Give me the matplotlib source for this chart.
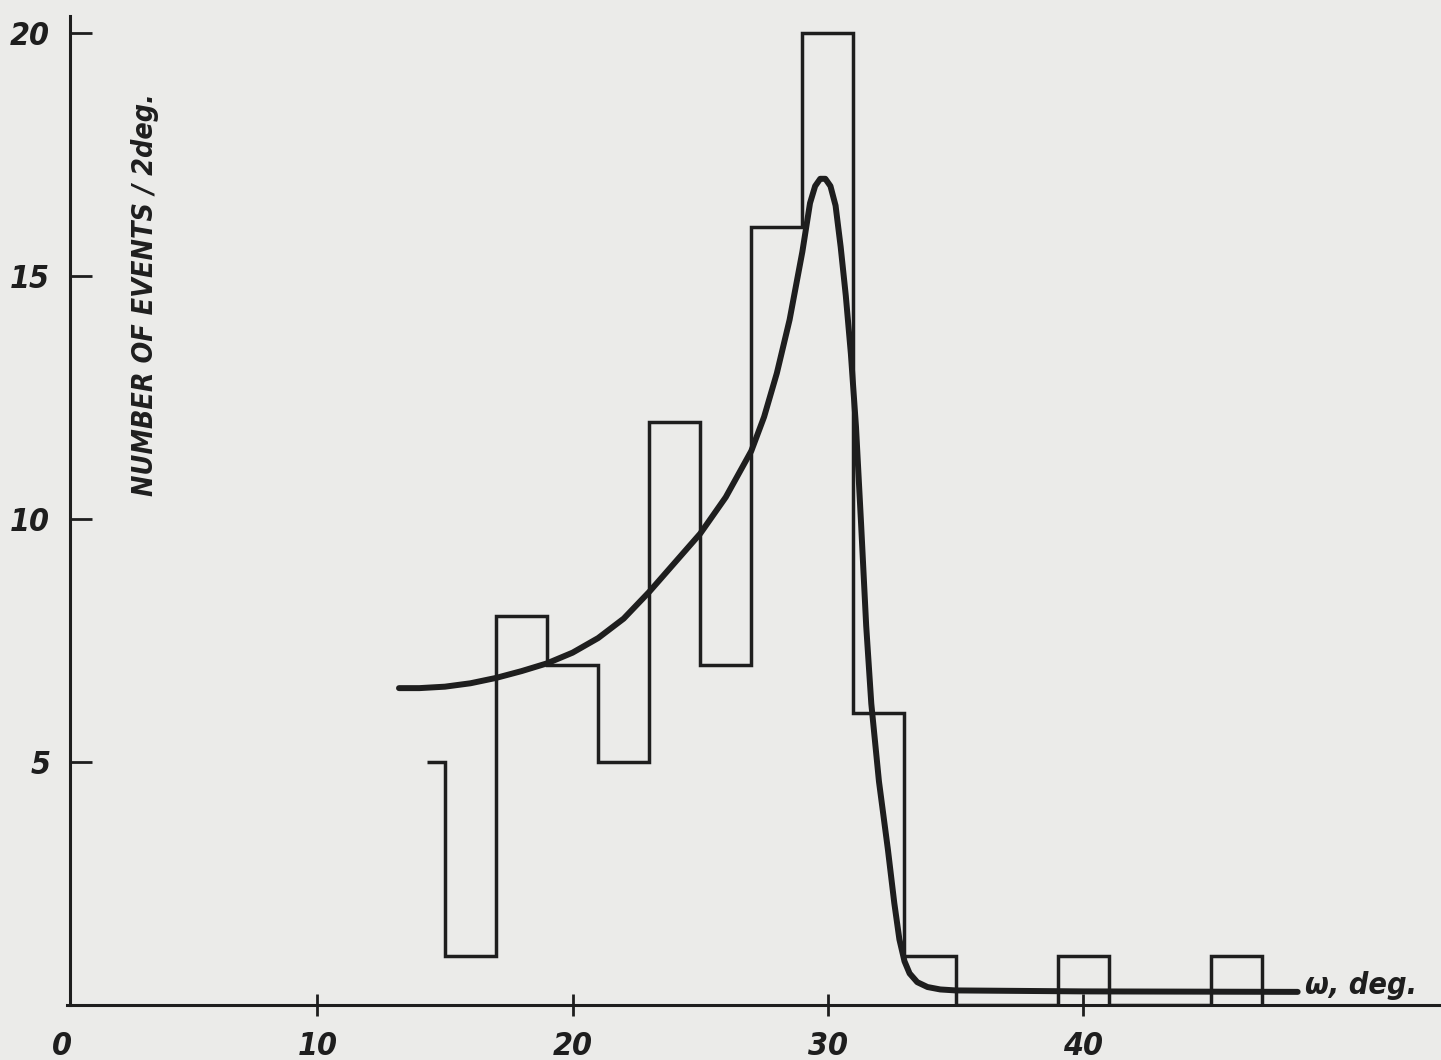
import matplotlib
matplotlib.use("Agg")
import matplotlib.pyplot as plt

# Histogram (outline drawn as steps): bin edges and counts per 2 deg
bin_edges = [14.3, 15, 17, 19, 21, 23, 25, 27, 29, 31, 33, 35, 37, 39, 41, 43, 45, 47, 47.05]
counts = [5, 1, 8, 7, 5, 12, 7, 16, 20, 6, 1, 0, 0, 1, 0, 0, 1, 0]

# Fitted curve, points
curve_w = [13.2, 14, 15, 16, 17, 18, 19, 20, 21, 22, 23, 24, 25, 26, 27, 27.5, 28,
           28.5, 29, 29.3, 29.5, 29.7, 29.9, 30.1, 30.3, 30.5, 30.7, 30.9, 31.1, 31.3,
           31.5, 31.7, 32.0, 32.35, 32.6, 32.8, 33.0, 33.2, 33.5, 33.9, 34.4, 35, 40, 48.4]
curve_v = [6.52, 6.52, 6.55, 6.62, 6.73, 6.87, 7.03, 7.25, 7.55, 7.95, 8.5, 9.1, 9.7,
           10.45, 11.4, 12.1, 13.0, 14.1, 15.5, 16.5, 16.85, 17.0, 17.0, 16.85, 16.45,
           15.6, 14.6, 13.4, 11.9, 9.9, 7.8, 6.2, 4.6, 3.2, 2.1, 1.35, 0.9, 0.65, 0.47,
           0.37, 0.32, 0.3, 0.28, 0.27]

xtick_vals = [0, 10, 20, 30, 40]
ytick_vals = [5, 10, 15, 20]

W, H = 1441, 1060
fig = plt.figure(figsize=(W / 100, H / 100), dpi=100)
paper = '#ebebe9'
ink = '#1e1e1e'
fig.patch.set_facecolor(paper)

x0_px, y0_px = 62, 1005
ax = fig.add_axes([x0_px / W, (H - y0_px) / H, (W - x0_px) / W, y0_px / H])
ax.set_facecolor(paper)
ax.set_xlim(0, (W - x0_px) / 25.53)
ax.set_ylim(0, y0_px / 48.6)

fam = ['DejaVu Sans']
txt = dict(fontfamily=fam, fontweight='bold', fontstyle='italic',
           fontstretch='condensed', color=ink)

# histogram outline
ax.stairs(counts, bin_edges, color=ink, linewidth=2.5, baseline=None, zorder=3)
# fitted curve
ax.plot(curve_w, curve_v, color=ink, linewidth=4.3, solid_capstyle='round',
        solid_joinstyle='round', zorder=4)

for s in ['top', 'right']:
    ax.spines[s].set_visible(False)
ax.spines['left'].set_position(('data', 0.3))
ax.spines['left'].set_bounds(0, 20.35)
ax.spines['bottom'].set_bounds(0.2, ax.get_xlim()[1])
for s in ['left', 'bottom']:
    ax.spines[s].set_linewidth(2.2)
    ax.spines[s].set_color(ink)

ax.set_xticks(xtick_vals)
ax.set_xticklabels([str(v) for v in xtick_vals], fontsize=23, **txt)
ax.xaxis.get_major_ticks()[0].tick1line.set_visible(False)
ax.tick_params(axis='x', direction='inout', length=16, width=2.0, color=ink, pad=11)

ax.set_yticks(ytick_vals)
ax.set_yticklabels([str(v) for v in ytick_vals], fontsize=23, **txt)
ax.tick_params(axis='y', direction='in', length=16, width=2.0, color=ink, pad=14)

fig.text(145 / W, 1 - 295 / H, 'NUMBER OF EVENTS / 2deg.', rotation=90,
         ha='center', va='center', fontsize=20.5, **txt)
fig.text(1305 / W, 1 - 985 / H, 'ω, deg.', ha='left', va='center', fontsize=22, **txt)

fig.savefig('out.png', dpi=100, facecolor=paper)
